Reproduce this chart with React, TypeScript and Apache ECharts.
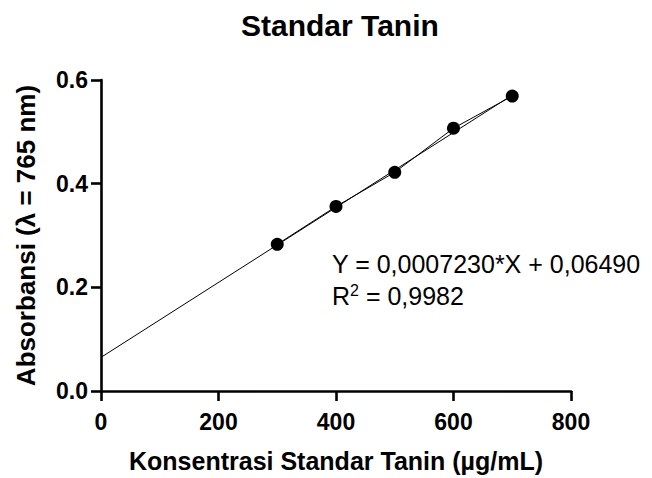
import React, { useEffect, useRef } from "react";
import * as echarts from "echarts";

const concentrations = [300, 400, 500, 600, 700];
const absorbance = [0.283, 0.356, 0.422, 0.507, 0.569];
const fitX = [0, 700];
const fitY = [0.0649, 0.571];
const xTicks = [0, 200, 400, 600, 800];
const yTicks = [0.0, 0.2, 0.4, 0.6];
const titleText = "Standar Tanin";
const xName = "Konsentrasi Standar Tanin (µg/mL)";
const yName = "Absorbansi (λ = 765 nm)";
const eqLine1 = "Y = 0,0007230*X + 0,06490";
const eqR2 = "0,9982";

const FONT = "'Liberation Sans', Arial, sans-serif";

export default function App() {
  const ref = useRef<HTMLDivElement>(null);
  useEffect(() => {
    document.body.style.margin = "0";
    const chart = echarts.init(ref.current!, null, { renderer: "svg" });
    chart.setOption({
      animation: false,
      backgroundColor: "#ffffff",
      textStyle: { fontFamily: FONT },
      title: {
        text: titleText,
        left: 236,
        top: 5,
        textStyle: { fontFamily: FONT, fontSize: 30, fontWeight: "bold", color: "#000" },
      },
      grid: { left: 101, right: 81, top: 80, bottom: 86, containLabel: false },
      xAxis: {
        type: "value",
        min: xTicks[0],
        max: xTicks[xTicks.length - 1],
        interval: 200,
        name: xName,
        nameLocation: "middle",
        nameGap: 57,
        nameTextStyle: { fontFamily: FONT, fontSize: 25, fontWeight: "bold", color: "#000" },
        axisLine: { show: true, onZero: false, lineStyle: { color: "#000", width: 2.6 } },
        axisTick: { show: true, length: 10, lineStyle: { color: "#000", width: 2.6 } },
        axisLabel: { margin: 19, fontFamily: FONT, fontSize: 23, fontWeight: "bold", color: "#000" },
        splitLine: { show: false },
      },
      yAxis: {
        type: "value",
        min: yTicks[0],
        max: yTicks[yTicks.length - 1],
        interval: 0.2,
        name: yName,
        nameLocation: "middle",
        nameGap: 62,
        nameTextStyle: { fontFamily: FONT, fontSize: 26, fontWeight: "bold", color: "#000" },
        axisLine: { show: true, onZero: false, lineStyle: { color: "#000", width: 2.6 } },
        axisTick: { show: true, length: 10, lineStyle: { color: "#000", width: 2.6 } },
        axisLabel: {
          margin: 13,
          fontFamily: FONT,
          fontSize: 23,
          fontWeight: "bold",
          color: "#000",
          formatter: (v: number) => v.toFixed(1),
        },
        splitLine: { show: false },
      },
      series: [
        {
          type: "line",
          data: fitX.map((x, i) => [x, fitY[i]]),
          showSymbol: false,
          symbol: "none",
          lineStyle: { color: "#000", width: 1 },
          z: 2,
        },
        {
          type: "line",
          data: concentrations.map((x, i) => [x, absorbance[i]]),
          symbol: "circle",
          symbolSize: 13,
          itemStyle: { color: "#000" },
          lineStyle: { color: "#000", width: 1 },
          z: 3,
        },
      ],
      graphic: [
        {
          type: "text",
          left: 332,
          top: 251,
          style: { text: eqLine1, fontFamily: FONT, fontSize: 25, fill: "#000" },
        },
        {
          type: "text",
          left: 332,
          top: 282,
          style: {
            text: "{r|R}{s|2}{r| = " + eqR2 + "}",
            fontFamily: FONT,
            fill: "#000",
            rich: {
              r: { fontFamily: FONT, fontSize: 25, fill: "#000" },
              s: { fontFamily: FONT, fontSize: 16, fill: "#000", padding: [0, 0, 11, 0] },
            },
          },
        },
      ],
    });
    return () => chart.dispose();
  }, []);
  return <div ref={ref} style={{ width: 652, height: 478 }} />;
}
